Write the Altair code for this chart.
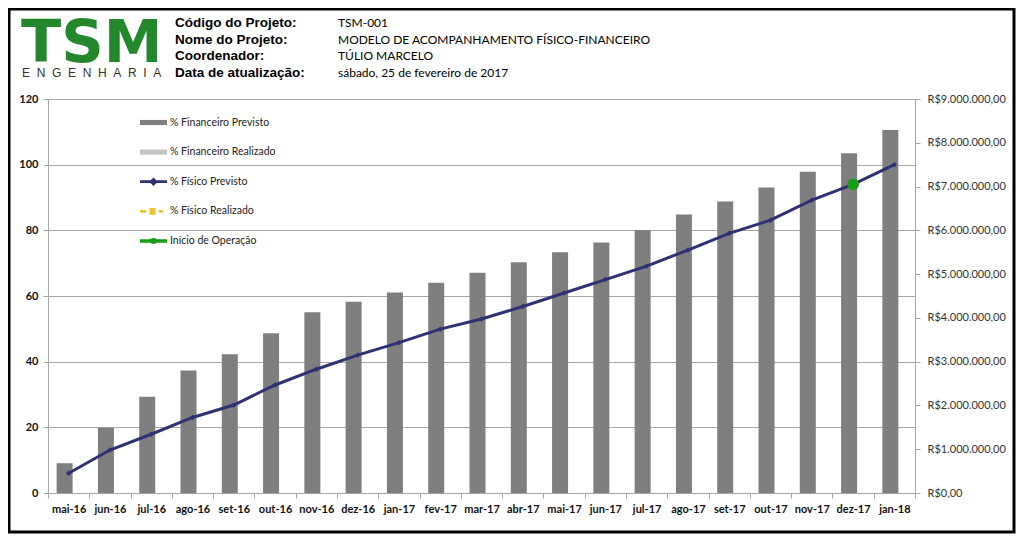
import altair as alt
import pandas as pd

# ---------------- data ----------------
meses = ["mai-16", "jun-16", "jul-16", "ago-16", "set-16", "out-16", "nov-16",
         "dez-16", "jan-17", "fev-17", "mar-17", "abr-17", "mai-17", "jun-17",
         "jul-17", "ago-17", "set-17", "out-17", "nov-17", "dez-17", "jan-18"]
# financeiro previsto acumulado, R$ milhões (eixo direito)
fin_previsto_mi = [0.68, 1.49, 2.20, 2.80, 3.17, 3.65, 4.13, 4.37, 4.58, 4.80,
                   5.03, 5.27, 5.50, 5.72, 6.01, 6.36, 6.66, 6.98, 7.34, 7.76, 8.29]
# % físico previsto (eixo esquerdo)
fis_previsto = [6.0, 13.1, 17.9, 23.0, 26.8, 32.9, 37.7, 42.0, 45.8, 49.9, 53.0,
                56.8, 60.9, 65.0, 69.1, 74.0, 79.1, 83.1, 89.2, 94.0, 100.0]
inicio_operacao = "dez-17"

series = ["% Financeiro Previsto", "% Financeiro Realizado", "% Físico Previsto",
          "% Físico Realizado", "Início de Operação"]

header_labels = ["Código do Projeto:", "Nome do Projeto:", "Coordenador:", "Data de atualização:"]
header_values = ["TSM-001", "MODELO DE ACOMPANHAMENTO FÍSICO-FINANCEIRO",
                 "TÚLIO MARCELO", "sábado, 25 de fevereiro de 2017"]
logo_text = "TSM"
logo_sub = "\u00a0\u00a0".join("ENGENHARIA")

# ---------------- styles ----------------
GRAY_BAR = "#7f7f7f"
NAVY = "#2e3272"
GREEN = "#1a9e1a"
AXIS_GRAY = "#a6a6a6"
series_colors = [GRAY_BAR, "#c4c4c4", NAVY, "#f2c12e", GREEN]
series_shapes = [
    "M-1,-0.19H1V0.19H-1Z",
    "M-1,-0.19H1V0.19H-1Z",
    "M-1,-0.1H1V0.1H-1Z M0,-0.32L0.32,0L0,0.32L-0.32,0Z",
    "M-1,-0.1H-0.55V0.1H-1Z M-0.3,-0.25H0.15V0.25H-0.3Z M0.4,-0.1H0.7V0.1H0.4Z",
    "M-1,-0.13H1V0.13H-1Z M0.3,0A0.3,0.22 0 1,1 -0.3,0A0.3,0.22 0 1,1 0.3,0Z",
]

W, H = 867, 394

df = pd.DataFrame({
    "mes": meses,
    "fin": [v * 1e6 for v in fin_previsto_mi],
    "fis": fis_previsto,
})

x_scale = alt.Scale(type="band", domain=meses, paddingInner=0, paddingOuter=0)
x_axis = alt.Axis(title=None, labelAngle=0, labelFont="Lato", labelFontWeight="bold",
                  labelFontSize=11, labelColor="#111111", domainColor=AXIS_GRAY,
                  tickColor=AXIS_GRAY, tickSize=5, tickBand="extent", labelPadding=5,
                  grid=False)

bars = alt.Chart(df).mark_bar(size=16, color=GRAY_BAR, xOffset=-4).encode(
    x=alt.X("mes:N", scale=x_scale, axis=x_axis),
    y=alt.Y("fin:Q", scale=alt.Scale(domain=[0, 9e6], nice=False),
            axis=alt.Axis(title=None, orient="right", values=[i * 1e6 for i in range(10)],
                          format="$,.2f", labelFont="Lato", labelFontSize=11,
                          labelColor="#333333", domainColor=AXIS_GRAY, tickColor=AXIS_GRAY,
                          tickSize=5, labelPadding=7, grid=False)),
)

line = alt.Chart(df).mark_line(
    color=NAVY, strokeWidth=3,
    point=alt.OverlayMarkDef(shape="diamond", size=30, filled=True, color=NAVY, opacity=1),
).encode(
    x=alt.X("mes:N", scale=x_scale, axis=x_axis),
    y=alt.Y("fis:Q", scale=alt.Scale(domain=[0, 120], nice=False),
            axis=alt.Axis(title=None, orient="left", values=list(range(0, 121, 20)),
                          labelFont="Lato", labelFontWeight="bold", labelFontSize=11,
                          labelColor="#111111", domainColor=AXIS_GRAY, tickColor=AXIS_GRAY,
                          tickSize=5, labelPadding=5, grid=True, gridColor=AXIS_GRAY,
                          gridWidth=1)),
)

inicio = alt.Chart(df).transform_filter(
    alt.datum.mes == inicio_operacao
).mark_point(filled=True, color=GREEN, size=140, opacity=1).encode(
    x=alt.X("mes:N", scale=x_scale, axis=x_axis),
    y=alt.Y("fis:Q", scale=alt.Scale(domain=[0, 120], nice=False), axis=None),
)

legend_def = alt.Legend(title=None, orient="none", legendX=92, legendY=10,
                        symbolSize=729, symbolStrokeWidth=0, labelFont="Lato",
                        labelFontSize=10.5, labelColor="#222222", rowPadding=10.6,
                        labelOffset=3, padding=0)
legend_layer = alt.Chart(pd.DataFrame({"serie": series})).transform_filter(
    "false"
).mark_point(filled=True, opacity=1).encode(
    color=alt.Color("serie:N", scale=alt.Scale(domain=series, range=series_colors),
                    legend=legend_def),
    shape=alt.Shape("serie:N", scale=alt.Scale(domain=series, range=series_shapes),
                    legend=legend_def),
)

one = alt.Data(values=[{}])
border = alt.Chart(one).mark_rect(filled=False, stroke="#000000", strokeWidth=3).encode(
    x=alt.value(-39), x2=alt.value(966), y=alt.value(-90), y2=alt.value(433))

hdr_lbl = alt.Chart(alt.Data(values=[{"t": "\n".join(header_labels)}])).mark_text(
    align="left", baseline="alphabetic", lineBreak="\n", lineHeight=16.7,
    font="Liberation Sans", fontWeight="bold", fontSize=13.5, color="#000000",
).encode(text="t:N", x=alt.value(127), y=alt.value(-72))

hdr_val = alt.Chart(alt.Data(values=[{"t": "\n".join(header_values)}])).mark_text(
    align="left", baseline="alphabetic", lineBreak="\n", lineHeight=16.7,
    font="Lato", fontSize=12, color="#000000",
).encode(text="t:N", x=alt.value(290), y=alt.value(-72))

logo = alt.Chart(alt.Data(values=[{"t": logo_text}])).mark_text(
    align="left", baseline="alphabetic", font="DejaVu Sans", fontWeight="bold",
    fontSize=59, color="#23872b",
).encode(text="t:N", x=alt.value(-27), y=alt.value(-37))

logo2 = alt.Chart(alt.Data(values=[{"t": logo_sub}])).mark_text(
    align="left", baseline="alphabetic", font="Liberation Sans",
    fontSize=12, color="#333333",
).encode(text="t:N", x=alt.value(-26), y=alt.value(-22))

chart = alt.layer(
    border, hdr_lbl, hdr_val, logo, logo2, bars, line, inicio, legend_layer
).resolve_scale(
    y="independent"
).properties(
    width=W, height=H,
    autosize=alt.AutoSizeParams(type="none"),
    padding={"left": 40, "top": 91, "right": 101, "bottom": 41},
).configure_view(
    stroke=None
).configure(
    locale={"number": {"decimal": ",", "thousands": ".", "grouping": [3],
                       "currency": ["R$", ""]}}
)

chart.save("out.html", embed_options={"renderer": "svg", "actions": False})
